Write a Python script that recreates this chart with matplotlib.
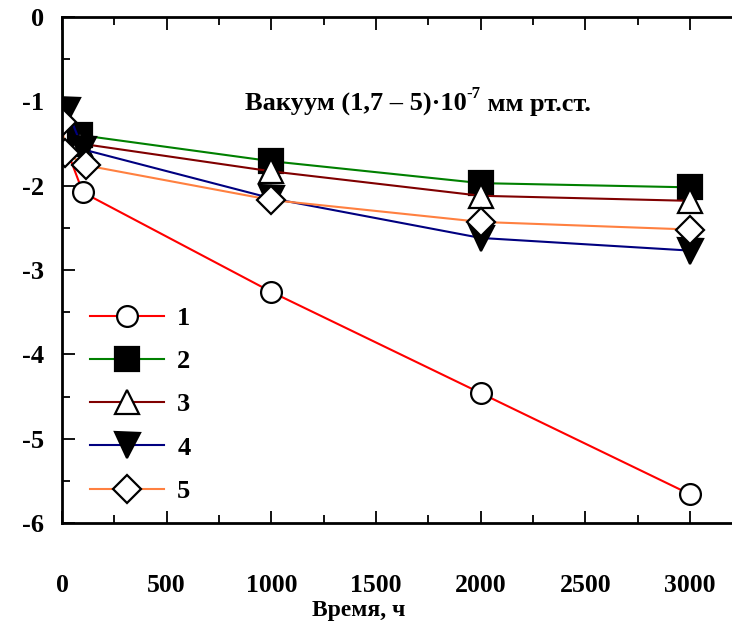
import matplotlib
matplotlib.use("Agg")
import matplotlib.pyplot as plt
from matplotlib.ticker import MultipleLocator

plt.rcParams['font.family'] = ['Liberation Serif', 'DejaVu Serif']
plt.rcParams['font.weight'] = 'bold'
plt.rcParams['axes.unicode_minus'] = False

# time, h  /  log of mass loss for the five samples
t1 = [30, 100, 1000, 2000, 3000]
v1 = [-1.62, -2.08, -3.26, -4.46, -5.66]

t2 = [0, 5, 85, 1000, 2000, 3000]
v2 = [0.0, -1.10, -1.40, -1.71, -1.97, -2.02]

t3 = [85, 1000, 2000, 3000]
v3 = [-1.50, -1.83, -2.12, -2.18]

t4 = [25, 100, 1000, 2000, 3000]
v4 = [-1.10, -1.57, -2.15, -2.62, -2.77]

t5 = [0, 15, 115, 1000, 2000, 3000]
v5 = [-1.24, -1.61, -1.76, -2.17, -2.43, -2.52]

labels = ['1', '2', '3', '4', '5']
xticks = [0, 500, 1000, 1500, 2000, 2500, 3000]
yticks = [0, -1, -2, -3, -4, -5, -6]

fig = plt.figure(figsize=(7.32, 6.24), dpi=100)
ax = fig.add_axes([62/732, 1 - 523/624, 1 - 62/732, (523 - 17)/624])

lw = 1.5
mew = 1.6
ax.plot(t1, v1, color='#ff0000', lw=lw, marker='o', ms=15, mfc='white', mec='black',
        mew=mew, markevery=[1, 2, 3, 4], label=labels[0])
ax.plot(t2, v2, color='#008000', lw=lw, marker='s', ms=17, mfc='black', mec='black',
        mew=mew, markevery=[2, 3, 4, 5], label=labels[1])
ax.plot(t3, v3, color='#800000', lw=lw, marker='^', ms=17, mfc='white', mec='black',
        mew=mew, label=labels[2])
ax.plot(t4, v4, color='#000080', lw=lw, marker='v', ms=18, mfc='black', mec='black',
        mew=mew, label=labels[3])
ax.plot(t5, v5, color='#ff8040', lw=lw, marker='D', ms=14, mfc='white', mec='black',
        mew=mew, label=labels[4])

ax.set_xlim(0, 3200)
ax.set_ylim(-6, 0)
ax.set_xticks(xticks)
ax.set_yticks(yticks)
ax.xaxis.set_minor_locator(MultipleLocator(250))
ax.yaxis.set_minor_locator(MultipleLocator(0.5))

for s in ['left', 'top', 'bottom']:
    ax.spines[s].set_linewidth(2)
ax.spines['right'].set_visible(False)

ax.tick_params(which='both', direction='in', top=True, right=False, width=1.3)
ax.tick_params(which='major', length=9)
ax.tick_params(which='minor', length=6)
ax.tick_params(axis='x', which='major', pad=37, labelsize=18.5)
ax.tick_params(axis='y', which='major', pad=13, labelsize=19)
for lab in ax.get_xticklabels() + ax.get_yticklabels():
    lab.set_fontweight('bold')

ax.set_xlabel('Время, ч', fontsize=17, fontweight='bold')
ax.xaxis.set_label_coords(0.443, -0.153)

# pressure note with a raised exponent
t_main = ax.text(0.273, 0.815, 'Вакуум (1,7 – 5)·10', transform=ax.transAxes,
                 fontsize=19, fontweight='bold', ha='left', va='baseline')
t_sup = ax.annotate('-7', xy=(1, 0.62), xycoords=t_main, fontsize=12,
                    fontweight='bold', ha='left', va='bottom')
ax.annotate(' мм рт.ст.', xy=(1, 0), xycoords=(t_sup, t_main), fontsize=19,
            fontweight='bold', ha='left', va='bottom')

ax.legend(loc='upper left', bbox_to_anchor=(0.042, 0.428), frameon=False,
          numpoints=1, handlelength=2.8, handletextpad=0.5, labelspacing=0.75,
          borderpad=0, borderaxespad=0, prop={'size': 19, 'weight': 'bold'})

fig.savefig('out.png', dpi=100)
